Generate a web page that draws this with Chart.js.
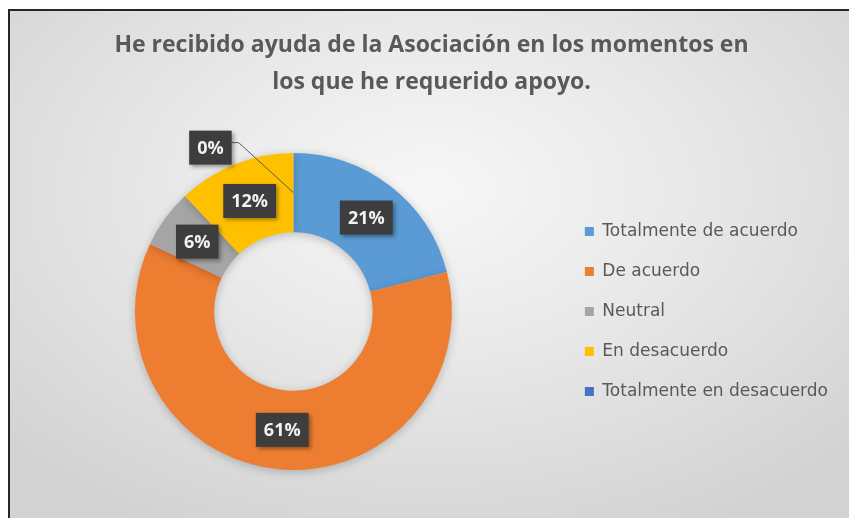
<!DOCTYPE html>
<html>
<head>
<meta charset="utf-8">
<script src="https://cdn.jsdelivr.net/npm/chart.js@4.4.0/dist/chart.umd.min.js"></script>
<style>
    html, body { margin: 0; padding: 0; background: #ffffff; }
    #frame {
        position: absolute; left: 8px; top: 9px; width: 841px; height: 509px;
        border-top: 2px solid #262626; border-left: 2px solid #262626;
        background: radial-gradient(ellipse 70% 75% at 50% 35%, #f7f7f7 0%, #e8e8e8 45%, #d2d2d2 100%);
    }
    #wrap { position: absolute; left: 0; top: 0; width: 849px; height: 518px; }
</style>
</head>
<body>
<div id="frame"></div>
<div id="wrap"><canvas id="myChart"></canvas></div>
<script>
// 데이터
const titleLines = ['He recibido ayuda de la Asociación en los momentos en', 'los que he requerido apoyo.'];
const categories = ['Totalmente de acuerdo', 'De acuerdo', 'Neutral', 'En desacuerdo', 'Totalmente en desacuerdo'];
const percentValues = [21, 61, 6, 12, 0];
const sliceColors = ['#5B9BD5', '#ED7D31', '#A5A5A5', '#FFC000', '#4472C4'];

// 그림자
const shadowPlugin = {
    id: 'shadow',
    beforeDatasetsDraw(chart) {
        const ctx = chart.ctx;
        ctx.save();
        ctx.shadowColor = 'rgba(0,0,0,0.22)';
        ctx.shadowBlur = 10;
        ctx.shadowOffsetX = 0;
        ctx.shadowOffsetY = 2;
    },
    afterDatasetsDraw(chart) {
        chart.ctx.restore();
    }
};

// 데이터 라벨 (어두운 박스)
const labelPlugin = {
    id: 'boxLabels',
    afterDraw(chart) {
        const ctx = chart.ctx;
        const meta = chart.getDatasetMeta(0);
        ctx.save();
        ctx.font = 'bold 18px "Open Sans", sans-serif';
        ctx.textAlign = 'center';
        ctx.textBaseline = 'middle';
        meta.data.forEach((arc, i) => {
            const v = percentValues[i];
            const pos = arc.tooltipPosition(true);
            let x = pos.x, y = pos.y;
            const text = v + '%';
            const w = ctx.measureText(text).width + 16;
            const h = 34;
            if (v === 0) {
                // 0% 는 바깥으로 빼고 지시선
                x = pos.x - 83;
                y = pos.y - 45;
                ctx.strokeStyle = '#595959';
                ctx.lineWidth = 1;
                ctx.beginPath();
                ctx.moveTo(x + w / 2, y - 5);
                ctx.lineTo(x + w / 2 + 7, y - 5);
                ctx.lineTo(pos.x, pos.y);
                ctx.stroke();
            }
            ctx.shadowColor = 'rgba(0,0,0,0.35)';
            ctx.shadowBlur = 4;
            ctx.shadowOffsetX = 2;
            ctx.shadowOffsetY = 2;
            ctx.fillStyle = '#3d3d3d';
            ctx.fillRect(x - w / 2, y - h / 2, w, h);
            ctx.shadowColor = 'transparent';
            ctx.fillStyle = '#f2f2f2';
            ctx.fillText(text, x, y + 1);
        });
        ctx.restore();
    }
};

const ctx = document.getElementById('myChart').getContext('2d');
const myChart = new Chart(ctx, {
    type: 'doughnut',
    data: {
        labels: categories,
        datasets: [{
            data: percentValues,
            backgroundColor: sliceColors,
            borderWidth: 0,
            hoverOffset: 0,
        }]
    },
    options: {
        responsive: true,
        maintainAspectRatio: false,
        animation: false,
        cutout: '50%',
        layout: {
            padding: { left: 25, right: 11, top: 0, bottom: 48 }
        },
        plugins: {
            title: {
                display: true,
                text: titleLines,
                color: '#595959',
                font: { family: '"Open Sans", sans-serif', size: 23, weight: 'bold', lineHeight: '37px' },
                padding: { top: 27, bottom: 52 },
            },
            legend: {
                display: true,
                position: 'right',
                fullSize: false,
                labels: {
                    boxWidth: 9,
                    boxHeight: 9,
                    padding: 23,
                    color: '#595959',
                    font: { family: '"DejaVu Sans", sans-serif', size: 17 },
                }
            },
            tooltip: { enabled: false }
        }
    },
    plugins: [shadowPlugin, labelPlugin]
});
</script>
</body>
</html>
